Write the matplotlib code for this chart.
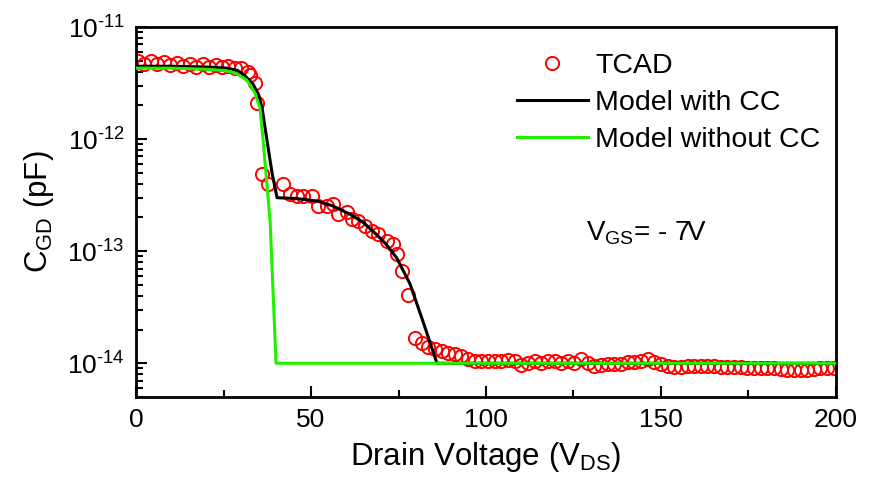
import numpy as np
import matplotlib
matplotlib.use('Agg')
import matplotlib.pyplot as plt
from matplotlib.ticker import MultipleLocator, LogLocator, NullFormatter, FixedLocator, FuncFormatter

plt.rcParams.update({
    'font.family': 'Liberation Sans',
    'mathtext.fontset': 'custom',
    'mathtext.rm': 'Liberation Sans',
    'mathtext.it': 'Liberation Sans:italic',
    'mathtext.default': 'regular',
})

# TCAD simulation points (V, pF)
tcad_v = [0.5, 2.3, 4.2, 6.0, 7.9, 9.7, 11.6, 13.4, 15.3, 17.1, 19.0, 20.8, 22.7, 24.5,
          26.4, 28.2, 30.1, 31.9, 32.6, 34.0, 34.6,
          35.9, 37.8, 42.1, 44.0, 45.9, 47.8, 50.2, 52.1, 54.5, 56.4, 57.8, 60.2, 61.6,
          63.5, 65.4, 67.3, 69.2, 71.6, 73.5, 74.5, 75.9, 77.8,
          79.7, 81.6, 83.5, 85.4, 87.3, 89.2, 91.1, 93.0, 94.9, 96.8, 98.7, 100.6,
          102.5, 104.4, 106.3, 108.2, 110.1, 112.0, 113.9, 115.8, 117.7, 119.6, 121.5,
          123.4, 125.3, 127.2, 129.1, 131.0, 132.9, 134.8, 136.7, 138.6, 140.5, 142.4,
          144.3, 146.2, 148.1, 150.0, 151.9, 153.8, 155.7, 157.6, 159.5, 161.4, 163.3,
          165.2, 167.1, 169.0, 170.9, 172.8, 174.7, 176.6, 178.5, 180.4, 182.3, 184.2,
          186.1, 188.0, 189.9, 191.8, 193.7, 195.6, 197.5, 199.4]
tcad_c = [5.0e-12, 4.7e-12, 5.0e-12, 4.7e-12, 4.9e-12, 4.6e-12, 4.8e-12, 4.5e-12,
          4.7e-12, 4.4e-12, 4.7e-12, 4.4e-12, 4.6e-12, 4.4e-12, 4.5e-12, 4.3e-12,
          4.3e-12, 4.0e-12, 3.7e-12, 3.2e-12, 2.1e-12,
          4.9e-13, 4.0e-13, 4.0e-13, 3.25e-13, 3.13e-13, 3.13e-13, 3.13e-13, 2.55e-13,
          2.55e-13, 2.64e-13, 2.15e-13, 2.22e-13, 1.94e-13, 1.87e-13, 1.69e-13,
          1.52e-13, 1.42e-13, 1.24e-13, 1.16e-13, 9.4e-14, 6.7e-14, 4.1e-14,
          1.69e-14, 1.52e-14, 1.40e-14, 1.33e-14, 1.28e-14, 1.24e-14, 1.20e-14,
          1.15e-14, 1.10e-14, 1.05e-14, 1.04e-14, 1.04e-14, 1.04e-14, 1.05e-14,
          1.06e-14, 1.04e-14, 0.96e-14, 1.00e-14, 1.04e-14, 1.00e-14, 1.04e-14,
          1.05e-14, 1.00e-14, 1.04e-14, 1.00e-14, 1.09e-14, 1.00e-14, 0.95e-14,
          0.97e-14, 0.99e-14, 0.99e-14, 0.99e-14, 1.02e-14, 1.02e-14, 1.04e-14,
          1.09e-14, 1.03e-14, 0.98e-14, 0.95e-14, 0.93e-14, 0.93e-14, 0.94e-14,
          0.94e-14, 0.94e-14, 0.94e-14, 0.94e-14, 0.93e-14, 0.93e-14, 0.92e-14,
          0.92e-14, 0.91e-14, 0.91e-14, 0.90e-14, 0.90e-14, 0.90e-14, 0.89e-14,
          0.88e-14, 0.88e-14, 0.88e-14, 0.88e-14, 0.89e-14, 0.90e-14, 0.90e-14,
          0.91e-14]

# model with channel charge (CC)
cc_v = [0, 10, 20, 26, 29, 31, 33.4, 35, 36, 37.4, 38.9, 40.3, 46, 51.7, 56, 61,
        65, 68.8, 71.5, 74.5, 78.3, 82, 86, 200]
cc_c = [4.47e-12, 4.47e-12, 4.4e-12, 4.3e-12, 4.1e-12, 3.7e-12, 3.1e-12, 2.5e-12,
        1.9e-12, 9.8e-13, 4.9e-13, 3.0e-13, 2.95e-13, 2.8e-13, 2.55e-13, 2.15e-13,
        1.8e-13, 1.4e-13, 1.15e-13, 8.7e-14, 5.1e-14, 2.36e-14, 1.0e-14, 1.0e-14]

# model without CC
nocc_v = [0, 10, 20, 25, 27, 29, 31.7, 34, 35.4, 36.3, 38.3, 40, 200]
nocc_c = [4.3e-12, 4.3e-12, 4.2e-12, 4.1e-12, 4.0e-12, 3.8e-12, 3.35e-12, 2.56e-12,
          1.9e-12, 9.8e-13, 1.86e-13, 1.0e-14, 1.0e-14]

y_major = [1e-14, 1e-13, 1e-12, 1e-11]

fig = plt.figure(figsize=(8.78, 4.83), dpi=100)
ax = fig.add_axes([0.155, 0.178, 0.797, 0.766])

ax.plot(tcad_v, tcad_c, 'o', mfc='none', mec='#ff0000', ms=9.5, mew=1.4, label='TCAD', zorder=2)
ax.plot(cc_v, cc_c, color='black', lw=2.2, label='Model with CC', zorder=3)
ax.plot(nocc_v, nocc_c, color='#22ee00', lw=2.2, label='Model without CC', zorder=4)

ax.set_yscale('log')
ax.set_xlim(0, 200)
ax.set_ylim(5e-15, 1e-11)
ax.xaxis.set_major_locator(MultipleLocator(50))
ax.xaxis.set_minor_locator(MultipleLocator(25))
ax.yaxis.set_major_locator(FixedLocator(y_major))
ax.yaxis.set_major_formatter(FuncFormatter(
    lambda v, p: '10$^{\u2010%d}$' % int(round(-np.log10(v)))))
ax.yaxis.set_minor_locator(LogLocator(base=10, subs=np.arange(2, 10), numticks=20))
ax.yaxis.set_minor_formatter(NullFormatter())

ax.tick_params(which='both', direction='in', top=False, right=False, labelsize=19, width=1.5)
ax.tick_params(which='major', length=8, pad=8)
ax.tick_params(which='minor', length=5)
for s in ax.spines.values():
    s.set_linewidth(2)

ax.set_xlabel('Drain Voltage (V$_{\\mathrm{DS}}$)', fontsize=22.5, labelpad=6)
ax.set_ylabel('C$_{\\mathrm{GD}}$ (pF)', fontsize=22.5, labelpad=8)

ax.text(0.643, 0.443, 'V$_{\\mathrm{GS}}$= - 7V', transform=ax.transAxes, fontsize=20,
        ha='left', va='center')

ax.legend(loc='upper left', bbox_to_anchor=(0.544, 0.93), frameon=False, fontsize=20.5,
          handlelength=2.5, handletextpad=0.25, labelspacing=0.38, borderpad=0,
          borderaxespad=0)

fig.savefig('out.png', dpi=100, facecolor='white')
